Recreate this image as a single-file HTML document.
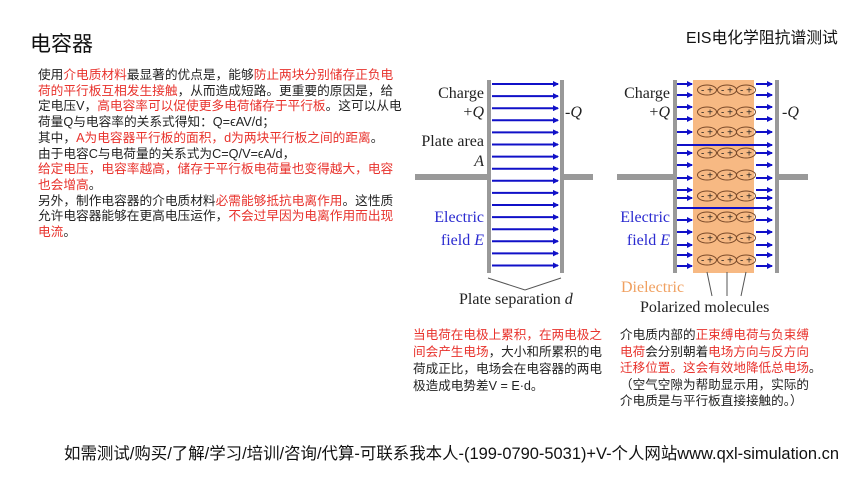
<!DOCTYPE html>
<html><head><meta charset="utf-8"><style>
body{margin:0;width:860px;height:484px;background:#fff;overflow:hidden;position:relative;font-family:"Liberation Sans","Noto Sans CJK SC",sans-serif;color:#222}
.a{position:absolute;white-space:nowrap}
.r{color:#e8322c}
.t{font-size:12.7px;line-height:15.7px}
</style></head><body>
<div class="a" style="left:30px;top:28px;font-size:21px;color:#111">电容器</div>
<div class="a" style="left:686px;top:25px;font-size:15.8px;color:#111">EIS电化学阻抗谱测试</div>
<div class="a t" style="left:38px;top:68px">使用<span class="r">介电质材料</span>最显著的优点是，能够<span class="r">防止两块分别储存正负电</span><br><span class="r">荷的平行板互相发生接触</span>，从而造成短路。更重要的原因是，给<br>定电压V，<span class="r">高电容率可以促使更多电荷储存于平行板</span>。这可以从电<br>荷量Q与电容率的关系式得知：Q=ϵAV/d；<br>其中，<span class="r">A为电容器平行板的面积，d为两块平行板之间的距离</span>。<br>由于电容C与电荷量的关系式为C=Q/V=ϵA/d，<br><span class="r">给定电压，电容率越高，储存于平行板电荷量也变得越大，电容<br>也会增高</span>。<br>另外，制作电容器的介电质材料<span class="r">必需能够抵抗电离作用</span>。这性质<br>允许电容器能够在更高电压运作，<span class="r">不会过早因为电离作用而出现<br>电流</span>。</div>
<div class="a t" style="left:413px;top:327px;line-height:17px;font-size:12.6px"><span class="r">当电荷在电极上累积，在两电极之<br>间会产生电场</span>，大小和所累积的电<br>荷成正比，电场会在电容器的两电<br>极造成电势差V = E·d。</div>
<div class="a t" style="left:620px;top:327px;line-height:16.6px;font-size:12.6px">介电质内部的<span class="r">正束缚电荷与负束缚<br>电荷</span>会分别朝着<span class="r">电场方向与反方向<br>迁移位置。这会有效地降低总电场</span>。<br>（空气空隙为帮助显示用，实际的<br>介电质是与平行板直接接触的。）</div>
<div class="a" style="left:64px;top:440px;font-size:16.45px;color:#111">如需测试/购买/了解/学习/培训/咨询/代算-可联系我本人-(199-0790-5031)+V-个人网站www.qxl-simulation.cn</div>
<svg class="a" style="left:0;top:0" width="860" height="484" font-family="Liberation Serif,serif">
<defs><marker id="m" markerWidth="6" markerHeight="6" refX="5" refY="3" orient="auto" markerUnits="userSpaceOnUse"><path d="M0,0L6,3L0,6z" fill="#1010c8"/></marker></defs>
<g fill="#999"><rect x="415" y="174" width="73" height="6"/><rect x="561" y="174" width="32" height="6"/><rect x="487" y="80" width="4" height="193"/><rect x="560" y="80" width="4" height="193"/>
<rect x="617" y="174" width="58" height="6"/><rect x="775" y="174" width="33" height="6"/><rect x="673" y="80" width="4" height="193"/><rect x="775" y="80" width="4" height="193"/></g>
<rect x="693" y="80" width="61" height="193" fill="#f7b983"/>
<g stroke="#1010c8" stroke-width="2" marker-end="url(#m)" id="ar"></g>
<g id="mol" fill="none" stroke="#7a4a2a" stroke-width="1"></g>
<g stroke="#555" stroke-width="1" fill="none"><path d="M488,278L525,290L561,278"/><path d="M707,272L712,296M727,272L727,296M746,272L741,296"/></g>
<g font-size="16" fill="#222" text-anchor="end"><text x="484" y="98">Charge</text><text x="484" y="117">+<tspan font-style="italic">Q</tspan></text><text x="484" y="146">Plate area</text><text x="484" y="166" font-style="italic">A</text>
<text x="670" y="98">Charge</text><text x="670" y="117">+<tspan font-style="italic">Q</tspan></text></g>
<g font-size="16" fill="#222"><text x="565" y="117">-<tspan font-style="italic">Q</tspan></text><text x="782" y="117">-<tspan font-style="italic">Q</tspan></text>
<text x="459" y="304">Plate separation <tspan font-style="italic">d</tspan></text><text x="640" y="312">Polarized molecules</text></g>
<g font-size="16" fill="#2a2ad0" text-anchor="end"><text x="484" y="222">Electric</text><text x="484" y="245">field <tspan font-style="italic">E</tspan></text><text x="670" y="222">Electric</text><text x="670" y="245">field <tspan font-style="italic">E</tspan></text></g>
<text x="621" y="292" font-size="16" fill="#f0a060">Dielectric</text>
</svg>
<script>
var ns="http://www.w3.org/2000/svg",ar=document.getElementById("ar"),mol=document.getElementById("mol");
function L(x1,y,x2){var l=document.createElementNS(ns,"line");l.setAttribute("x1",x1);l.setAttribute("y1",y);l.setAttribute("x2",x2);l.setAttribute("y2",y);ar.appendChild(l);}
for(var i=0;i<16;i++){var y=84+i*12.1;L(492,y,558);}
var my=[90,112,132,153,175,196,217,238,260];
var rows=[84,95,107,119,132,145,153,165,178,190,198,208,220,232,245,255,266];
rows.forEach(function(y){ if(y==145||y==208)L(677,y,772);else{L(677,y,692);L(756,y,772);} });
my.forEach(function(y){[707,727,746].forEach(function(x){var e=document.createElementNS(ns,"ellipse");e.setAttribute("cx",x);e.setAttribute("cy",y);e.setAttribute("rx",9.5);e.setAttribute("ry",5);mol.appendChild(e);
 var t=document.createElementNS(ns,"text");t.setAttribute("x",x);t.setAttribute("y",y+3.5);t.setAttribute("text-anchor","middle");t.setAttribute("font-size","10");t.setAttribute("fill","#222");t.setAttribute("stroke","none");t.setAttribute("font-family","Liberation Sans");t.textContent="- +";mol.appendChild(t);});});
</script>
</body></html>
